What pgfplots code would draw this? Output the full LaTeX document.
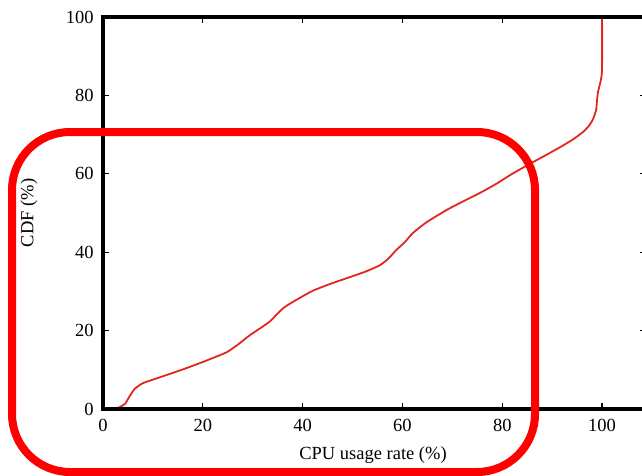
\documentclass[border=0pt]{standalone}
\usepackage{fontspec}
\setmainfont{Liberation Serif}
\usepackage{pgfplots}
\pgfplotsset{compat=1.18}
\definecolor{curvered}{RGB}{226,38,28}
\begin{document}
\fontsize{18.5}{22}\selectfont
\begin{tikzpicture}
\useasboundingbox (0,0) rectangle (642pt,475pt);
\begin{scope}
\clip (0,0) rectangle (642pt,475pt);
\begin{axis}[
  at={(103pt,66pt)}, anchor=south west,
  scale only axis, width=543pt, height=392pt,
  xmin=0, xmax=108.8, ymin=0, ymax=100,
  xtick={0,20,40,60,80,100}, ytick={0,20,40,60,80,100},
  tick align=inside, major tick length=6pt,
  every tick/.style={black, line width=1.3pt},
  tick label style={font=\fontsize{18.5}{22}\selectfont},
  /pgf/number format/assume math mode=true,
  xticklabel style={yshift=-4pt},
  yticklabel style={xshift=-3pt},
  clip=false,
]
\addplot[curvered, line width=1.8pt, smooth, tension=0.4] coordinates {
(2.4,0) (3.2,0.4) (4.4,1.3) (5.4,3.4) (6.4,5.2) (8.0,6.6) (10,7.5) (12.8,8.7)
(16,10.1) (19.4,11.7) (22,13) (24.8,14.5) (27,16.4) (29.5,18.9) (31.5,20.6) (33.5,22.4)
(35,24.4) (36.5,26.1) (39.5,28.4) (42.1,30.2) (45.5,31.9) (48.9,33.4) (52.5,35.0) (55.5,36.7)
(57.2,38.4) (58.8,40.6) (60.5,42.6) (62.1,44.9) (64.9,47.7) (68.9,50.8) (72.2,53.0) (75.5,55.1)
(79,57.6) (82,60.0) (85.6,62.6) (88.5,64.6) (91.6,66.8) (94.2,68.8) (96.2,70.7) (97.4,72.3)
(98.2,74.0) (98.8,76.3) (99.0,79.0) (99.2,81.0) (99.6,83.0) (99.9,85.0) (100,88) (100,100)
};
\draw[black, line width=3.2pt, line join=miter] (rel axis cs:0,0) rectangle (rel axis cs:1,1);
\end{axis}
\end{scope}
\node[rotate=90] at (29pt,262pt) {CDF (\%)};
\node at (373pt,20pt) {CPU usage rate (\%)};
\draw[red, line width=8pt, rounded corners=58pt] (12pt,343pt) rectangle (535pt,3pt);
\end{tikzpicture}
\end{document}
